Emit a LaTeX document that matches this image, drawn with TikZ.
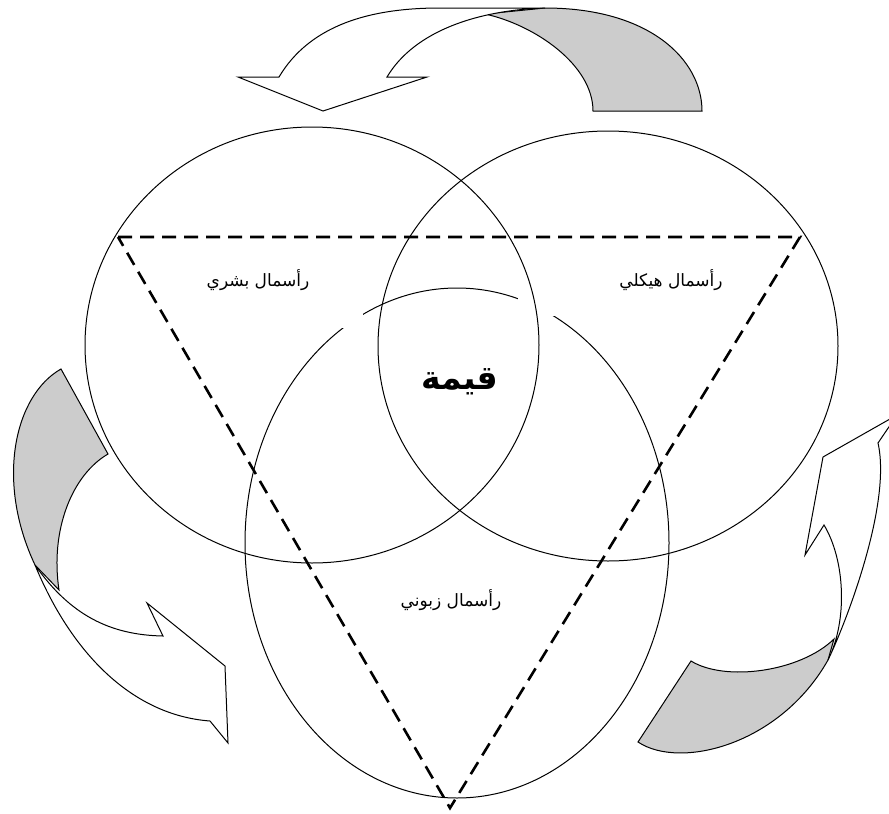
\documentclass[tikz,border=0pt]{standalone}
\usepackage{fontspec}
\usepackage{tikz}
\usetikzlibrary{positioning}
\newfontfamily\arabicfont[Script=Arabic]{DejaVu Sans}
\TeXXeTstate=1
\definecolor{ribbongray}{gray}{0.8}

\begin{document}
\begin{tikzpicture}[x=1pt,y=-1pt,line join=miter,
        ring/.style={line width=1pt},
        ribbon/.style={draw,line width=1pt,fill=white},
        ribback/.style={draw,line width=1pt,fill=ribbongray},
        triline/.style={line width=2.6pt,dash pattern=on 14pt off 8pt},
        capname/.style={font=\arabicfont\fontsize{17}{20}\selectfont,inner sep=0pt}]
    \useasboundingbox (0,0) rectangle (889,814);
    % curved arrows
    \draw[ribback] (485,14) .. controls (535,25) and (593,65) .. (593,111) -- (702,111)
        .. controls (702,60) and (650,8) .. (545,8) -- cycle;
    \draw[ribbon] (545,8) -- (440,8) .. controls (370,8) and (310,25) .. (279,77)
        -- (238,77) -- (323,111) -- (427,77) -- (387,77)
        .. controls (415,30) and (480,10) .. (545,8);
    \draw[ribback] (35,565) .. controls (-5,480) and (15,395) .. (61,369) -- (108,454)
        .. controls (72,475) and (50,530) .. (59,590) -- cycle;
    \draw[ribbon] (35,565) .. controls (70,650) and (130,715) .. (210,721)
        -- (228,743) -- (225,666) -- (147,603) -- (163,636)
        .. controls (110,635) and (70,615) .. (35,565);
    \draw[ribback] (828,660) .. controls (780,745) and (680,770) .. (638,742) -- (691,661)
        .. controls (725,682) and (800,672) .. (834,639) -- cycle;
    \draw[ribbon] (828,660) .. controls (845,625) and (892,505) .. (878,443)
        -- (897,415) -- (823,457) -- (805,555) -- (824,525)
        .. controls (845,560) and (848,620) .. (828,660);
    % circles
    \draw[ring] (457,543) ellipse [x radius=212, y radius=255];
    \fill[white] (175,245) rectangle (363,328);
    \fill[white] (518,248) rectangle (745,316);
    \draw[ring] (312,345) ellipse [x radius=227, y radius=218];
    \draw[ring] (608,346) ellipse [x radius=230, y radius=215];
    \draw[triline] (118,237) -- (800,237) -- (450,808) -- cycle;
    % labels
    \node[capname] (human) at (258,280) {\beginR رأسمال بشري\endR};
    \node[capname] (structural) at (671,280) {\beginR رأسمال هيكلي\endR};
    \node[capname] (customer) at (451,600) {\beginR رأسمال زبوني\endR};
    \node[font=\arabicfont\bfseries\fontsize{33}{36}\selectfont,inner sep=0pt] (value) at (460,382) {\beginR قيمة\endR};
\end{tikzpicture}
\end{document}
